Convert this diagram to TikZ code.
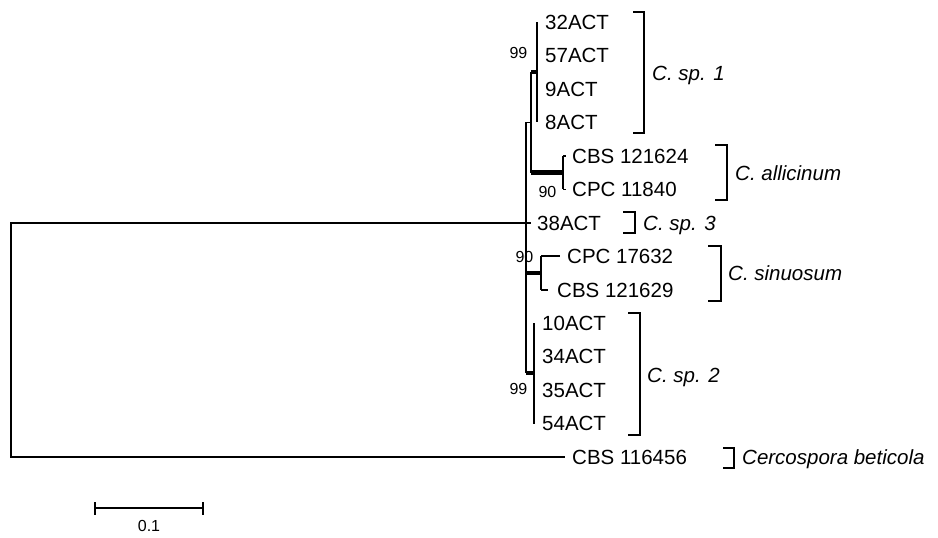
\documentclass[tikz,border=0pt]{standalone}
\usepackage{fontspec}
\setmainfont{Liberation Sans}
\begin{document}
\begin{tikzpicture}[x=1pt,y=-1pt,
  br/.style={line width=1.6pt},
  boldbr/.style={line width=4.2pt},
  leaf/.style={anchor=base west, inner sep=0pt, font=\fontsize{20.5}{24}\selectfont},
  spname/.style={anchor=base west, inner sep=0pt, font=\fontsize{20.5}{24}\selectfont\itshape},
  bsv/.style={anchor=base east, inner sep=0pt, font=\fontsize{16}{18}\selectfont},
  brk/.style={line width=1.6pt}]
\useasboundingbox (0,0) rectangle (938,538);
% root
\coordinate (rootT) at (11,222.8);
\coordinate (rootB) at (11,457);
\coordinate (ing) at (526,222.8);
\coordinate (ingT) at (526,122.4);
\coordinate (ingB) at (526,373);
\coordinate (a1m) at (531,122.4);
\coordinate (a1T) at (531,72);
\coordinate (a1B) at (531,172.5);
\coordinate (s1) at (537,72);
\coordinate (s1T) at (537,22);
\coordinate (s1B) at (537,122.4);
\coordinate (al) at (563,172.5);
\coordinate (alT) at (563,155.8);
\coordinate (alB) at (563,189.3);
\coordinate (si) at (541,273);
\coordinate (siT) at (541,256.2);
\coordinate (siB) at (541,289.7);
\coordinate (s2) at (534,373);
\coordinate (s2T) at (534,323.1);
\coordinate (s2B) at (534,423.5);
\coordinate (e38) at (531,222.8);
\coordinate (eCPC17632) at (560,256.2);
\coordinate (eCBS121629) at (548,289.7);
\coordinate (eCBS121624) at (566,155.8);
\coordinate (eCPC11840) at (566,189.3);
\coordinate (eOut) at (565,457);

% leaf labels
\node[leaf] (l32) at (545,29.3) {32ACT};
\node[leaf] (l57) at (545,62.8) {57ACT};
\node[leaf] (l9) at (545,96.3) {9ACT};
\node[leaf] (l8) at (545,129.7) {8ACT};
\node[leaf] (lCBS121624) at (572,163.1) {CBS 121624};
\node[leaf] (lCPC11840) at (572,196.6) {CPC 11840};
\node[leaf] (l38) at (537,230.1) {38ACT};
\node[leaf] (lCPC17632) at (567,263.5) {CPC 17632};
\node[leaf] (lCBS121629) at (557,297) {CBS 121629};
\node[leaf] (l10) at (542,330.4) {10ACT};
\node[leaf] (l34) at (542,363.9) {34ACT};
\node[leaf] (l35) at (542,397.3) {35ACT};
\node[leaf] (l54) at (542,430.8) {54ACT};
\node[leaf] (lOut) at (572,464.3) {CBS 116456};

% branches
\draw[br] (ing) -- (rootT) -- (rootB) -- (eOut);
\draw[br] (ingT) -- (ingB);
\draw[br] (ingT) -- (a1m);
\draw[br] (a1T) -- (a1B);
\draw[boldbr] (a1T) -- (s1);
\draw[br] (s1T) -- (s1B);
\draw[boldbr] (a1B) -- (al);
\draw[br] (alT) -- (alB);
\draw[br] (alT) -- (eCBS121624);
\draw[br] (alB) -- (eCPC11840);
\draw[br] (ing) -- (e38);
\draw[boldbr] (ing |- si) -- (si);
\draw[br] (siT) -- (siB);
\draw[br] (siT) -- (eCPC17632);
\draw[br] (siB) -- (eCBS121629);
\draw[boldbr] (ingB) -- (s2);
\draw[br] (s2T) -- (s2B);

% support values
\node[bsv] (b1) at (527.5,58.5) {99};
\node[bsv] (b2) at (556.5,197) {90};
\node[bsv] (b3) at (533.5,262.5) {90};
\node[bsv] (b4) at (527.5,394) {99};

% species brackets
\draw[brk] (633,12) -- (644,12) -- (644,133) -- (633,133);
\node[spname] (n1) at (652,80) {C. sp. 1};
\draw[brk] (715,145) -- (727,145) -- (727,200) -- (715,200);
\node[spname] (n2) at (735,180.3) {C. allicinum};
\draw[brk] (623,212) -- (635,212) -- (635,233) -- (623,233);
\node[spname] (n3) at (643,230.1) {C. sp. 3};
\draw[brk] (708,246) -- (721,246) -- (721,301) -- (708,301);
\node[spname] (n4) at (728,280.3) {C. sinuosum};
\draw[brk] (628,313) -- (640,313) -- (640,435) -- (628,435);
\node[spname] (n5) at (647,382.5) {C. sp. 2};
\draw[brk] (723,448) -- (734,448) -- (734,468) -- (723,468);
\node[spname] (n6) at (742,464.3) {Cercospora beticola};

% scale bar
\coordinate (sbL) at (95,508);
\coordinate (sbR) at (203,508);
\draw[br] (sbL) -- (sbR);
\draw[br] ([yshift=-6.5pt]sbL) -- ([yshift=6.5pt]sbL);
\draw[br] ([yshift=-6.5pt]sbR) -- ([yshift=6.5pt]sbR);
\node[bsv, anchor=base] (sbl) at (149,531.5) {0.1};
\end{tikzpicture}
\end{document}
